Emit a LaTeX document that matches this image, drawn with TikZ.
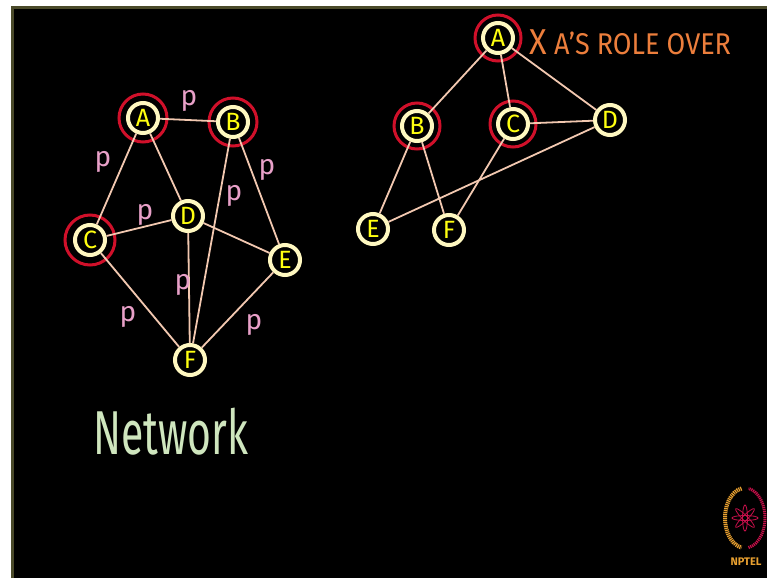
\documentclass[tikz,border=0pt]{standalone}
\usepackage{fontspec}
\setmainfont{Fira Sans}
\definecolor{ringcol}{HTML}{FFF8C0}
\definecolor{letcol}{HTML}{FFFF10}
\definecolor{seedcol}{HTML}{D0102A}
\definecolor{edgecol}{HTML}{F2C8B0}
\definecolor{probcol}{HTML}{E8A0C8}
\definecolor{notecol}{HTML}{EC7E3C}
\definecolor{netcol}{HTML}{CFE6BE}
\definecolor{framecol}{HTML}{4A4A2A}
\definecolor{logoorange}{HTML}{E8A030}
\definecolor{logored}{HTML}{C8104A}
\begin{document}
\begin{tikzpicture}[x=1pt,y=-1pt,
  vtx/.style={circle,draw=ringcol,line width=4pt,fill=black,text=letcol,
    minimum size=30pt,inner sep=0pt,font=\fontsize{25}{25}\selectfont},
  seed/.style={draw=seedcol,line width=3pt},
  link/.style={draw=edgecol,line width=1.8pt},
  prob/.style={text=probcol,font=\fontsize{28}{28}\selectfont}]
\useasboundingbox (0,0) rectangle (767,578);
% background and frame
\fill[white] (0,0) rectangle (767,578);
\fill[black] (12,7) rectangle (767,578);
\draw[framecol,line width=3pt] (12.5,578) -- (12.5,7.5) -- (767,7.5);
% left network
\node[vtx] (A) at (143,118) {A};
\node[vtx] (B) at (233,122) {B};
\node[vtx] (C) at (90,240) {C};
\node[vtx] (D) at (188,216) {D};
\node[vtx] (E) at (285,260) {E};
\node[vtx] (F) at (190,360) {F};
\draw[seed] (A.center) circle (24pt);
\draw[seed] (B.center) circle (24pt);
\draw[seed] (C.center) circle (25pt);
\draw[link] (A) -- (B);
\draw[link] (A) -- (C);
\draw[link] (A) -- (D);
\draw[link] (B) -- (F);
\draw[link] (B) -- (E);
\draw[link] (C) -- (D);
\draw[link] (C) -- (F);
\draw[link] (D) -- (E);
\draw[link] (D) -- (F);
\draw[link] (E) -- (F);
\node[prob] (pAB) at (189,101) {p};
\node[prob] (pAC) at (103,162) {p};
\node[prob] (pCD) at (145,215) {p};
\node[prob] (pBF) at (234,196) {p};
\node[prob] (pBE) at (267,170) {p};
\node[prob] (pDF) at (183,285) {p};
\node[prob] (pCF) at (128,317) {p};
\node[prob] (pEF) at (254,325) {p};
\node[text=netcol,font=\fontsize{62}{62}\selectfont] (net) at (171,432)
  {\scalebox{0.66}[1]{Network}};
% right network
\node[vtx] (rA) at (498,38) {A};
\node[vtx] (rB) at (417,126) {B};
\node[vtx] (rC) at (513,124) {C};
\node[vtx] (rD) at (610,120) {D};
\node[vtx] (rE) at (373,229) {E};
\node[vtx] (rF) at (449,230) {F};
\draw[seed] (rA.center) circle (23pt);
\draw[seed] (rB.center) circle (23pt);
\draw[seed] (rC.center) circle (23pt);
\draw[link] (rA) -- (rB);
\draw[link] (rA) -- (rC);
\draw[link] (rA) -- (rD);
\draw[link] (rC) -- (rD);
\draw[link] (rB) -- (rE);
\draw[link] (rB) -- (rF);
\draw[link] (rC) -- (rF);
\draw[link] (rD) -- (rE);
\node[anchor=west,text=notecol,font=\fontsize{30}{30}\selectfont] (note) at (526,42)
  {\scalebox{0.9}[1]{{\fontsize{36}{36}\selectfont X} A'S ROLE OVER}};
% logo
\draw[logoorange,line width=4pt,dash pattern=on 1.2pt off 0.8pt] (745,518) ++(100:20pt and 30pt) arc (100:260:20pt and 30pt);
\draw[logored,line width=3pt,dash pattern=on 1.2pt off 0.8pt] (745,518) ++(-80:20pt and 30pt) arc (-80:80:20pt and 30pt);
\foreach \a in {0,45,...,135}
  \draw[logored,line width=0.8pt] (745,518) ellipse[x radius=13pt,y radius=2.5pt,rotate=\a];
\node[text=logoorange,font=\bfseries\fontsize{11}{11}\selectfont] (nptel) at (746,562) {NPTEL};
\end{tikzpicture}
\end{document}
